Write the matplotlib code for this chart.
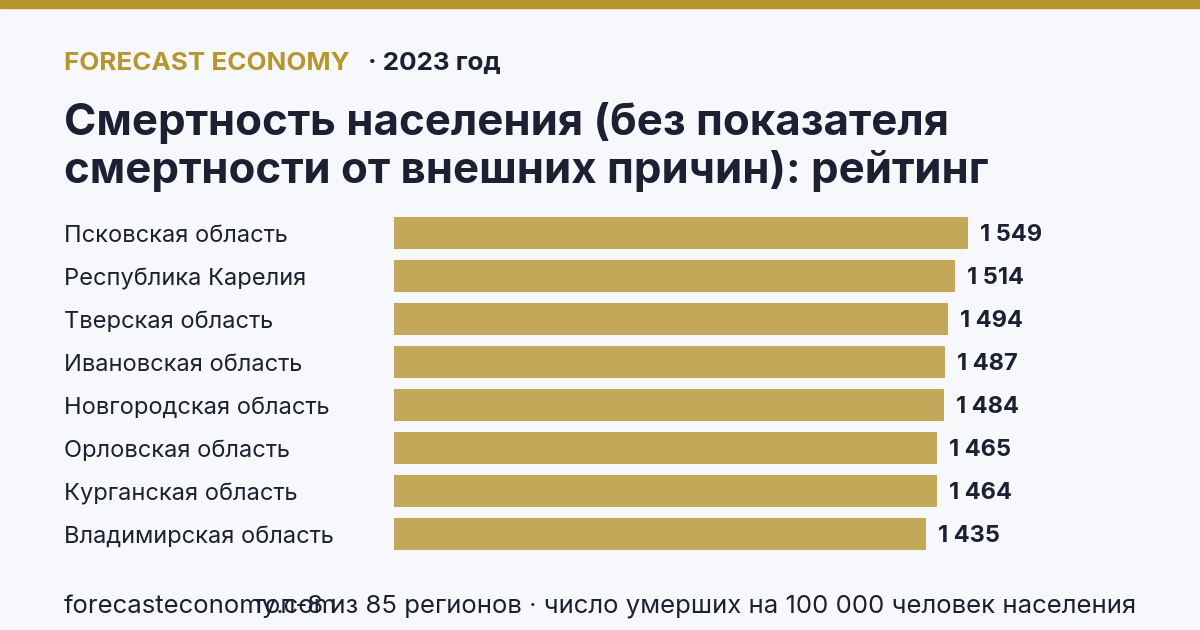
import matplotlib
matplotlib.use("Agg")
import matplotlib.pyplot as plt

plt.rcParams['font.family'] = ['Inter', 'DejaVu Sans']

regions = ["Псковская область", "Республика Карелия", "Тверская область",
           "Ивановская область", "Новгородская область", "Орловская область",
           "Курганская область", "Владимирская область"]
values = [1549, 1514, 1494, 1487, 1484, 1465, 1464, 1435]

BG = "#F7F8FC"
GOLD = "#B8962E"
BAR = "#C4A85A"
DARK = "#1E1F33"

W, H = 1200, 630
fig = plt.figure(figsize=(W / 100, H / 100), dpi=100, facecolor=BG)

# top stripe
fig.patches.append(plt.Rectangle((0, 1 - 8 / H), 1, 8 / H, transform=fig.transFigure,
                                 color=GOLD, zorder=0))

# header
fig.text(64 / W, 1 - 70 / H, "FORECAST ECONOMY", color=GOLD, fontsize=18.7,
         fontweight="bold", ha="left", va="baseline")
fig.text(368 / W, 1 - 70 / H, "· 2023 год", color=DARK, fontsize=18.7,
         fontweight="bold", ha="left", va="baseline")
fig.text(64 / W, 1 - 135 / H, "Смертность населения (без показателя", color=DARK,
         fontsize=31.5, fontweight="bold", ha="left", va="baseline")
fig.text(64 / W, 1 - 183 / H, "смертности от внешних причин): рейтинг", color=DARK,
         fontsize=31.5, fontweight="bold", ha="left", va="baseline")

# bars
x0 = 394
scale = (967 - 394) / 1549  # px per unit
top_c, pitch = 233, 43
n = len(values)
ax_top = top_c - pitch / 2
ax_h = pitch * n
ax = fig.add_axes([x0 / W, 1 - (ax_top + ax_h) / H, (W - x0) / W, ax_h / H])
ax.set_facecolor(BG)
ax.set_xlim(0, (W - x0) / scale)
ax.set_ylim(n - 0.5, -0.5)
ypos = list(range(n))
ax.barh(ypos, values, height=0.7, color=BAR, edgecolor=BAR, linewidth=1.5,
        joinstyle="round")
for y, v in zip(ypos, values):
    ax.text(v + 13 / scale, y + 2 / pitch, f"{v:,}".replace(",", " "), color=DARK,
            fontsize=17, fontweight="bold", ha="left", va="center")
for s in ax.spines.values():
    s.set_visible(False)
ax.set_xticks([])
ax.set_yticks([])

for y, name in zip(ypos, regions):
    fig.text(64 / W, 1 - (top_c + 3 + pitch * y) / H, name, color=DARK, fontsize=17,
             ha="left", va="center")

# footer
fig.text(64 / W, 1 - 613 / H, "forecasteconomy.com", color=DARK, fontsize=18.5,
         ha="left", va="baseline")
fig.text(253 / W, 1 - 613 / H,
         "топ-8 из 85 регионов · число умерших на 100 000 человек населения",
         color=DARK, fontsize=18.5, ha="left", va="baseline")

fig.savefig("out.png", dpi=100, facecolor=BG)
